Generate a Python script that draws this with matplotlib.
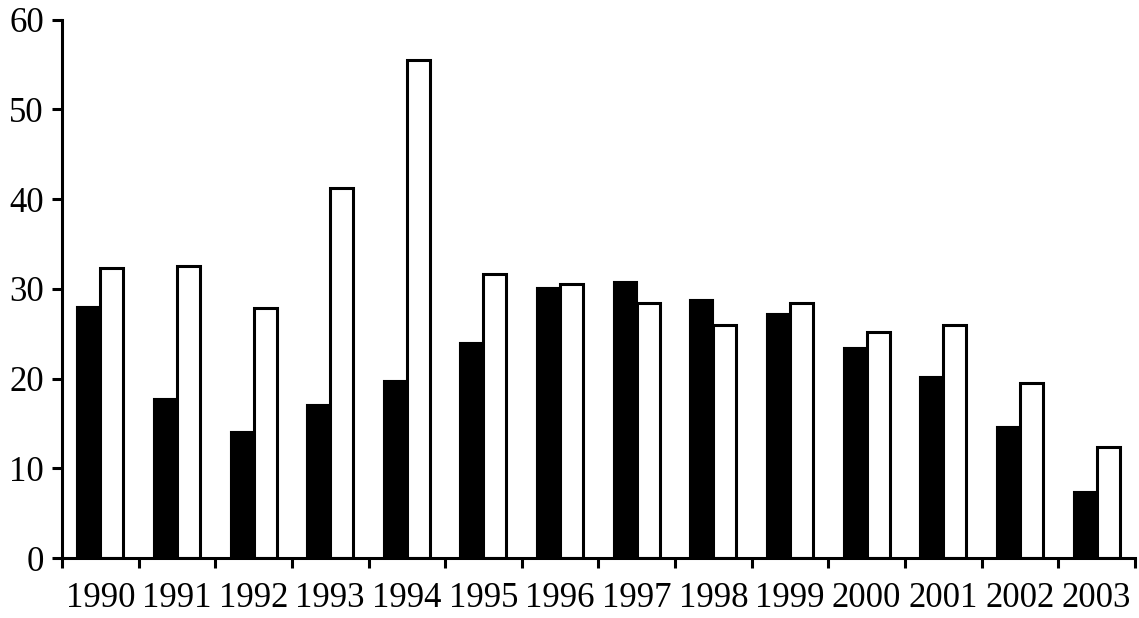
import matplotlib
matplotlib.use("Agg")
import matplotlib.pyplot as plt
import numpy as np

years = ["1990", "1991", "1992", "1993", "1994", "1995", "1996", "1997",
         "1998", "1999", "2000", "2001", "2002", "2003"]
series_black = [28.0, 17.7, 14.1, 17.1, 19.7, 24.0, 30.1, 30.8, 28.8, 27.2, 23.4, 20.2, 14.6, 7.4]
series_white = [32.3, 32.6, 27.9, 41.2, 55.5, 31.7, 30.6, 28.4, 26.0, 28.4, 25.2, 26.0, 19.5, 12.4]
y_ticks = [0, 10, 20, 30, 40, 50, 60]

plt.rcParams['font.family'] = ['Liberation Serif', 'DejaVu Serif']

fig = plt.figure(figsize=(11.39, 6.18), dpi=100)
ax = fig.add_axes([0.0544, 0.097, 0.942, 0.871])

x = np.arange(len(years)) + 0.5
w = 0.3
ax.bar(x - w / 2, series_black, width=w, color='black', edgecolor='black', linewidth=1.5)
ax.bar(x + w / 2, series_white, width=w, color='white', edgecolor='black', linewidth=2.2)

ax.set_xlim(0, len(years))
ax.set_ylim(0, 60)
ax.set_yticks(y_ticks)
ax.set_xticks(np.arange(len(years) + 1))
ax.set_xticklabels([])
ax.set_xticks(x, minor=True)
ax.set_xticklabels(years, minor=True)
ax.tick_params(axis='x', which='minor', length=0, pad=17, labelsize=25)
ax.tick_params(axis='x', which='major', direction='out', length=7, width=2.2)
ax.tick_params(axis='y', direction='out', length=7, width=2.2, labelsize=25, pad=6)

for s in ['top', 'right']:
    ax.spines[s].set_visible(False)
for s in ['left', 'bottom']:
    ax.spines[s].set_linewidth(2.2)

fig.savefig("out.png", dpi=100)
